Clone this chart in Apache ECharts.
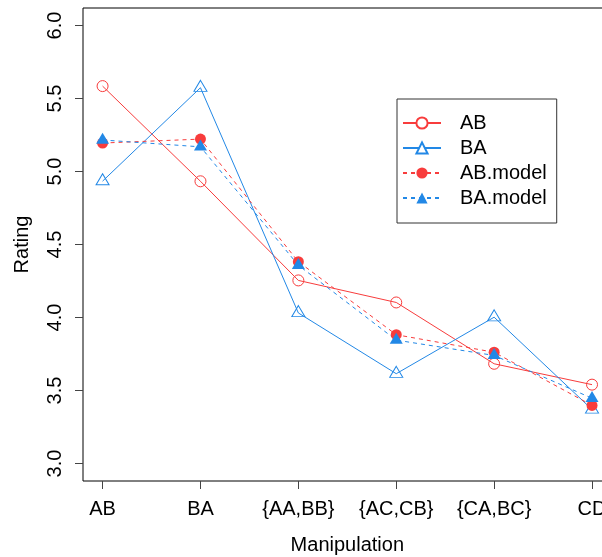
<!DOCTYPE html>
<html>
<head>
<meta charset="utf-8">
<script src="https://cdn.jsdelivr.net/npm/echarts@6/dist/echarts.min.js"></script>
<style>
html,body{margin:0;padding:0;background:#fff;}
#chart{width:602px;height:557px;}
</style>
</head>
<body>
<div id="chart"></div>
<script>
var categories = ['AB', 'BA', '{AA,BB}', '{AC,CB}', '{CA,BC}', 'CD'];
var yTicks = [3.0, 3.5, 4.0, 4.5, 5.0, 5.5, 6.0];
var AB = [5.585, 4.933, 4.254, 4.103, 3.683, 3.540];
var BA = [4.934, 5.574, 4.031, 3.615, 4.002, 3.370];
var ABmodel = [5.195, 5.222, 4.382, 3.882, 3.762, 3.398];
var BAmodel = [5.216, 5.169, 4.358, 3.845, 3.740, 3.447];

var RED = '#F83C3C';
var BLUE = '#2288E6';
var FONT = 'Liberation Sans, Arial, Helvetica, sans-serif';

function pts(arr) { return arr.map(function (v, i) { return [i + 1, v]; }); }
var xTickVals = categories.map(function (c, i) { return i + 1; });

var chart = echarts.init(document.getElementById('chart'), null, {renderer: 'canvas'});
chart.setOption({
  animation: false,
  backgroundColor: '#fff',
  textStyle: {fontFamily: FONT},
  grid: {left: 83, top: 8, width: 528.6, height: 473, show: true, borderColor: '#000', borderWidth: 1,
         containLabel: false, outerBoundsMode: 'none'},
  legend: {
    orient: 'vertical', left: 397, top: 99,
    padding: [14, 10, 15, 5], itemGap: 5, itemWidth: 38, itemHeight: 14,
    borderColor: '#333', borderWidth: 1, backgroundColor: '#fff',
    textStyle: {fontSize: 20, color: '#000', fontFamily: FONT, padding: [0, 0, 0, 14]},
    data: [
      {name: 'AB', itemStyle: {color: '#fff'}},
      {name: 'BA', itemStyle: {color: '#fff'}},
      {name: 'AB.model'},
      {name: 'BA.model'}
    ]
  },
  xAxis: {
    type: 'value', min: 0.8, max: 6.2,
    name: 'Manipulation', nameLocation: 'middle', nameGap: 54,
    nameTextStyle: {fontSize: 20, color: '#000', fontFamily: FONT},
    axisLine: {show: false},
    splitLine: {show: false},
    axisTick: {show: true, length: 8, lineStyle: {color: '#444'}, customValues: xTickVals},
    axisLabel: {
      fontSize: 20, color: '#000', margin: 18, fontFamily: FONT,
      customValues: xTickVals,
      formatter: function (v) { return categories[Math.round(v) - 1] || ''; }
    }
  },
  yAxis: {
    type: 'value', min: 2.88, max: 6.12,
    name: 'Rating', nameLocation: 'middle', nameGap: 51, nameRotate: 90,
    nameTextStyle: {fontSize: 20, color: '#000', fontFamily: FONT},
    axisLine: {show: false},
    splitLine: {show: false},
    axisTick: {show: true, length: 8, lineStyle: {color: '#444'}, customValues: yTicks},
    axisLabel: {
      fontSize: 20, color: '#000', margin: 18, rotate: 90, fontFamily: FONT,
      customValues: yTicks,
      formatter: function (v) { return v.toFixed(1); }
    }
  },
  series: [
    {
      name: 'AB', type: 'line', data: pts(AB),
      symbol: 'circle', symbolSize: 11,
      lineStyle: {color: RED, width: 1},
      itemStyle: {color: 'rgba(255,255,255,0)', borderColor: RED, borderWidth: 1},
      emphasis: {disabled: true}
    },
    {
      name: 'BA', type: 'line', data: pts(BA),
      symbol: 'triangle', symbolSize: [13, 11], symbolOffset: [0, '-16.7%'],
      lineStyle: {color: BLUE, width: 1},
      itemStyle: {color: 'rgba(255,255,255,0)', borderColor: BLUE, borderWidth: 1},
      emphasis: {disabled: true}
    },
    {
      name: 'AB.model', type: 'line', data: pts(ABmodel),
      symbol: 'circle', symbolSize: 11,
      lineStyle: {color: RED, width: 1, type: [4, 4]},
      itemStyle: {color: RED, borderWidth: 0},
      emphasis: {disabled: true}
    },
    {
      name: 'BA.model', type: 'line', data: pts(BAmodel),
      symbol: 'triangle', symbolSize: [13, 11], symbolOffset: [0, '-16.7%'],
      lineStyle: {color: BLUE, width: 1, type: [4, 4]},
      itemStyle: {color: BLUE, borderWidth: 0},
      emphasis: {disabled: true}
    }
  ]
});
</script>
</body>
</html>
